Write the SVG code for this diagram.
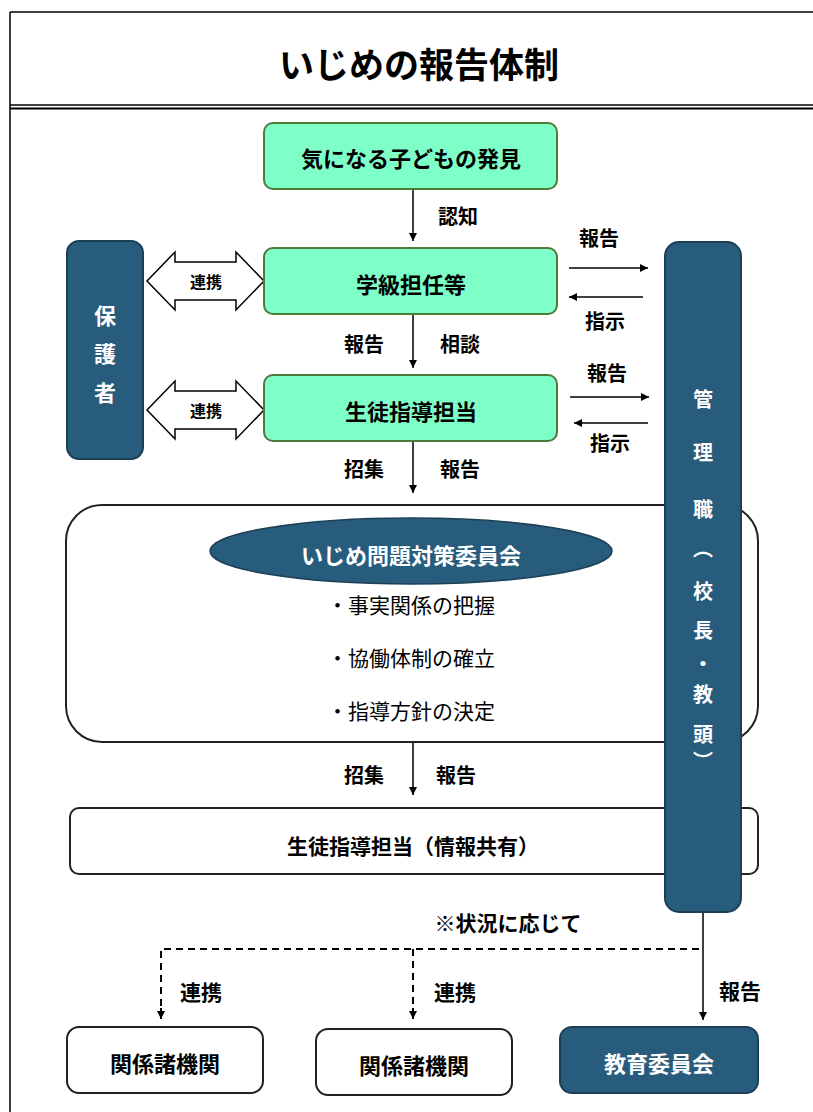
<svg xmlns="http://www.w3.org/2000/svg" width="813" height="1112" viewBox="0 0 813 1112">
<defs>
<style>
text{font-family:"Noto Sans CJK JP","Liberation Sans",sans-serif;text-anchor:middle;dominant-baseline:central;fill:#000}
.b{font-weight:bold}
.w{fill:#fff;font-weight:bold}
.green{fill:#7fffc8;stroke:#4e7a3b;stroke-width:2}
.blue{fill:#285c7d;stroke:#1d3f55;stroke-width:2}
.white{fill:#fff;stroke:#222;stroke-width:2}
.ln{stroke:#000;stroke-width:1.5;fill:none}
.dash{stroke:#000;stroke-width:2;fill:none;stroke-dasharray:7,5}
</style>
<marker id="ah" viewBox="0 0 10 10" refX="10" refY="5" markerWidth="8" markerHeight="8" markerUnits="userSpaceOnUse" orient="auto">
<path d="M0,0 L10,5 L0,10 z" fill="#000"/>
</marker>
</defs>
<rect width="813" height="1112" fill="#fff"/>
<g id="frame">
<line x1="10" y1="12" x2="813" y2="12" stroke="#000" stroke-width="1.5"/>
<line x1="10" y1="12" x2="10" y2="1112" stroke="#000" stroke-width="1.5"/>
<line x1="10" y1="105" x2="813" y2="105" stroke="#000" stroke-width="1.5"/>
<line x1="10" y1="108.5" x2="813" y2="108.5" stroke="#000" stroke-width="2"/>
<text x="419" y="62" style="font-size:35px" class="b">いじめの報告体制</text>
</g>
<g id="connectors">
<line class="ln" x1="413" y1="189" x2="413" y2="241" marker-end="url(#ah)"/>
<line class="ln" x1="413" y1="314" x2="413" y2="368" marker-end="url(#ah)"/>
<line class="ln" x1="413" y1="441" x2="413" y2="493" marker-end="url(#ah)"/>
<line class="ln" x1="413" y1="742" x2="413" y2="795" marker-end="url(#ah)"/>
<line class="ln" x1="569" y1="268" x2="648" y2="268" marker-end="url(#ah)"/>
<line class="ln" x1="643" y1="297" x2="569" y2="297" marker-end="url(#ah)"/>
<line class="ln" x1="570" y1="397" x2="649" y2="397" marker-end="url(#ah)"/>
<line class="ln" x1="648" y1="423" x2="574" y2="423" marker-end="url(#ah)"/>
<path d="M147,281 L175,252 L175,262 L236,262 L236,252 L264,281 L236,310 L236,300 L175,300 L175,310 Z" fill="#fff" stroke="#000" stroke-width="1.5"/>
<path d="M147,410 L175,381 L175,391 L236,391 L236,381 L264,410 L236,439 L236,429 L175,429 L175,439 Z" fill="#fff" stroke="#000" stroke-width="1.5"/>
<polyline class="dash" points="161,1018 161,949 703,949"/>
<line class="dash" x1="413" y1="949" x2="413" y2="1018"/>
<line x1="161" y1="1008" x2="161" y2="1019" stroke="#000" stroke-width="2" marker-end="url(#ah)"/>
<line x1="413" y1="1008" x2="413" y2="1019" stroke="#000" stroke-width="2" marker-end="url(#ah)"/>
<line class="ln" x1="703" y1="912" x2="703" y2="1020" marker-end="url(#ah)"/>
<text x="458" y="215" style="font-size:20px" class="b">認知</text>
<text x="364" y="343" style="font-size:20px" class="b">報告</text>
<text x="460" y="343" style="font-size:20px" class="b">相談</text>
<text x="364" y="468" style="font-size:20px" class="b">招集</text>
<text x="460" y="468" style="font-size:20px" class="b">報告</text>
<text x="364" y="774" style="font-size:20px" class="b">招集</text>
<text x="456" y="774" style="font-size:20px" class="b">報告</text>
<text x="599" y="237" style="font-size:20px" class="b">報告</text>
<text x="605" y="320" style="font-size:20px" class="b">指示</text>
<text x="607" y="372" style="font-size:20px" class="b">報告</text>
<text x="610" y="442" style="font-size:20px" class="b">指示</text>
<text x="206" y="281" style="font-size:16px" class="b">連携</text>
<text x="206" y="410" style="font-size:16px" class="b">連携</text>
<text x="508" y="922" style="font-size:21px" class="b">※状況に応じて</text>
<text x="201" y="991" style="font-size:21px" class="b">連携</text>
<text x="455" y="991" style="font-size:21px" class="b">連携</text>
<text x="740" y="990" style="font-size:21px" class="b">報告</text>
</g>
<g id="n_hakken">
<rect class="green" x="264" y="123" width="293" height="66" rx="9"/>
<text x="411" y="157" style="font-size:22px" class="b">気になる子どもの発見</text>
</g>
<g id="n_tannin">
<rect class="green" x="264" y="248" width="293" height="66" rx="9"/>
<text x="411" y="283" style="font-size:22px" class="b">学級担任等</text>
</g>
<g id="n_seito">
<rect class="green" x="264" y="375" width="293" height="66" rx="9"/>
<text x="411" y="410" style="font-size:22px" class="b">生徒指導担当</text>
</g>
<g id="n_hogosha">
<rect class="blue" x="67" y="241" width="76" height="218" rx="12"/>
<text x="105" y="314" style="font-size:22px" class="w">保</text>
<text x="105" y="352" style="font-size:22px" class="w">護</text>
<text x="105" y="391" style="font-size:22px" class="w">者</text>
</g>
<g id="n_iinkai">
<rect class="white" x="66" y="505" width="692" height="237" rx="36" stroke-width="1.5"/>
<ellipse cx="411" cy="551" rx="201" ry="33" fill="#285c7d" stroke="#1d3f55" stroke-width="1.5"/>
<text x="411" y="554" style="font-size:22px" class="w">いじめ問題対策委員会</text>
<text x="411" y="604" style="font-size:21px">・事実関係の把握</text>
<text x="411" y="657" style="font-size:21px">・協働体制の確立</text>
<text x="411" y="710" style="font-size:21px">・指導方針の決定</text>
</g>
<g id="n_share">
<rect class="white" x="70" y="808" width="688" height="66" rx="9" stroke-width="1.5"/>
<text x="413" y="845" style="font-size:21px" class="b">生徒指導担当（情報共有）</text>
</g>
<g id="n_kanri">
<rect class="blue" x="665" y="242" width="76" height="670" rx="14"/>
<text x="703" y="398" style="font-size:20px" class="w">管</text>
<text x="703" y="451" style="font-size:20px" class="w">理</text>
<text x="703" y="508" style="font-size:20px" class="w">職</text>
<text x="703" y="547" style="font-size:20px" class="w">︵</text>
<text x="703" y="590" style="font-size:20px" class="w">校</text>
<text x="703" y="629" style="font-size:20px" class="w">長</text>
<text x="703" y="662" style="font-size:20px" class="w">・</text>
<text x="703" y="693" style="font-size:20px" class="w">教</text>
<text x="703" y="733" style="font-size:20px" class="w">頭</text>
<text x="703" y="760" style="font-size:20px" class="w">︶</text>
</g>
<g id="n_kikan1">
<rect class="white" x="67" y="1027" width="196" height="66" rx="12"/>
<text x="165" y="1062" style="font-size:22px" class="b">関係諸機関</text>
</g>
<g id="n_kikan2">
<rect class="white" x="316" y="1029" width="196" height="66" rx="12"/>
<text x="414" y="1064" style="font-size:22px" class="b">関係諸機関</text>
</g>
<g id="n_kyoiku">
<rect class="blue" x="560" y="1027" width="198" height="66" rx="12"/>
<text x="659" y="1062" style="font-size:22px" class="w">教育委員会</text>
</g>
</svg>
